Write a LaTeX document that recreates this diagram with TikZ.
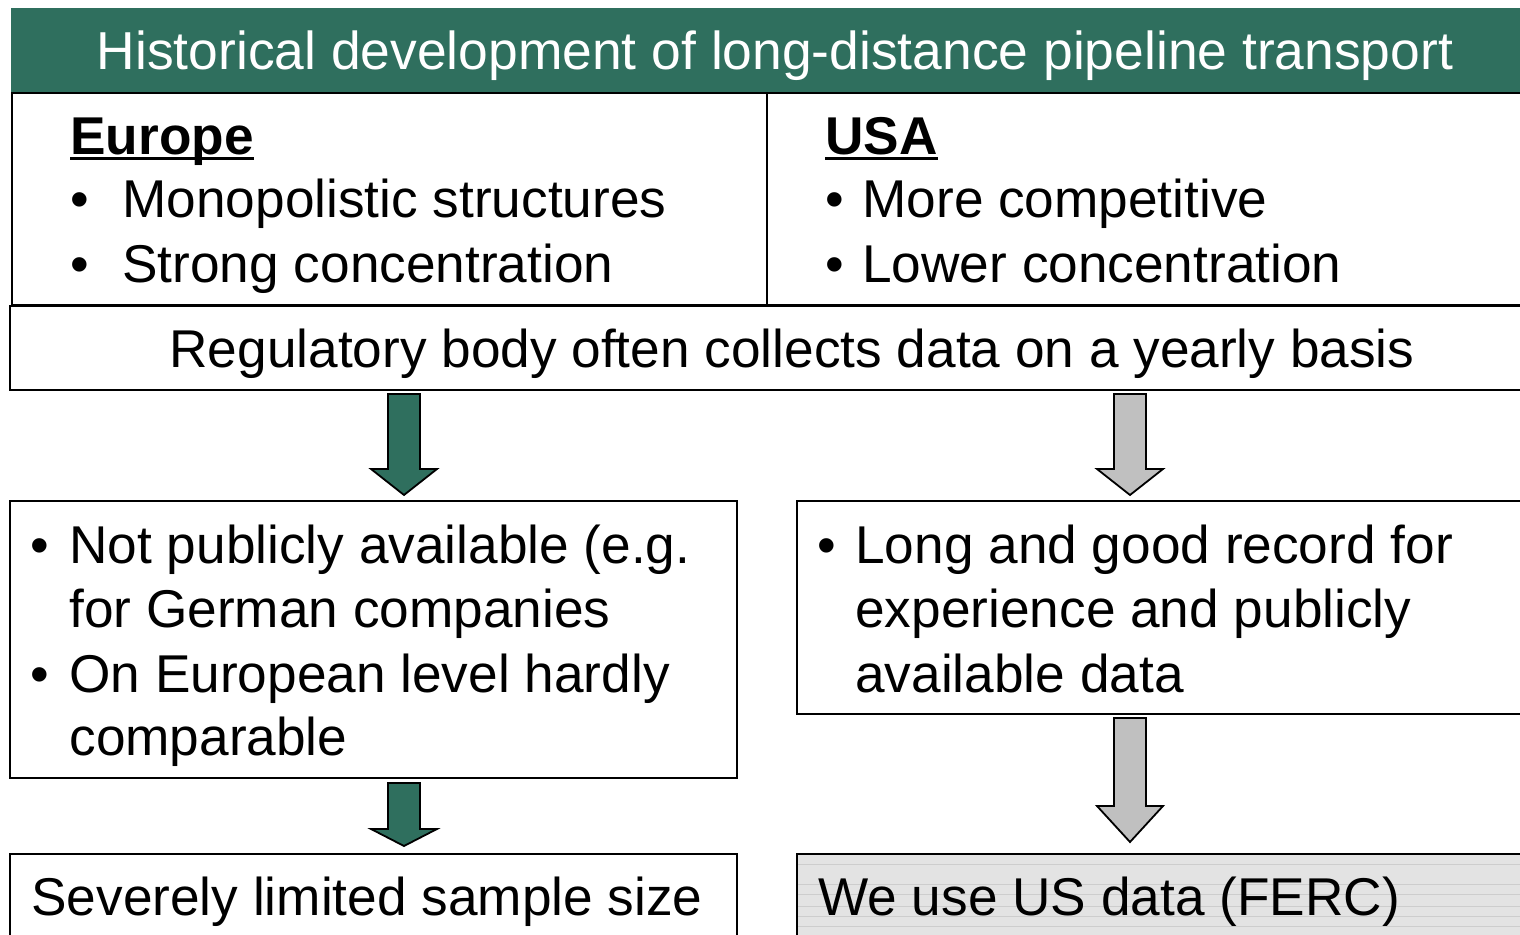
\documentclass[tikz,border=0pt]{standalone}
\usepackage{fontspec}
\setmainfont{Liberation Sans}
\usetikzlibrary{fit}
\definecolor{hgreen}{RGB}{47,111,94}
\definecolor{agray}{RGB}{192,192,192}
\definecolor{bgray}{RGB}{227,227,227}
\definecolor{lgray}{RGB}{205,205,205}
\newcommand\myul[1]{\setbox0\hbox{#1}\rlap{\rule[-2.6pt]{\wd0}{1.5pt}}\box0}
\newcommand\barrow[5]{% fill, cx, ytop, yhead, ytip
  \draw[arrowline, fill=#1] (#2-16,#3) -- (#2+16,#3) -- (#2+16,#4) -- (#2+33,#4)
    -- (#2,#5) -- (#2-33,#4) -- (#2-16,#4) -- cycle;}
\begin{document}
\begin{tikzpicture}[x=0.5pt,y=-0.5pt,
  box/.style={draw=black, line width=1.2pt, inner sep=0pt},
  arrowline/.style={draw=black, line width=0.9pt, line join=miter},
  txt/.style={anchor=base west, inner sep=0pt, font=\fontsize{26.6}{32}\selectfont},
  ttl/.style={anchor=base, inner sep=0pt, text=white, font=\fontsize{26.7}{32}\selectfont}]
\useasboundingbox (0,0) rectangle (1520,935);
% title bar
\node[fill=hgreen, inner sep=0pt, fit={(11,8)(1540,92)}] (title) {};
\node[ttl] (ttext) at (775,70) {Historical development of long-distance pipeline transport};
% top box
\node[box, fit={(12,93)(1540,305)}] (top) {};
\draw[line width=1.2pt] (767,93) -- (767,305);
\node[txt] (eu) at (70,155) {\myul{\textbf{Europe}}};
\node[txt] (eub1) at (70,218) {•};
\node[txt] (eut1) at (122,218) {Monopolistic structures};
\node[txt] (eub2) at (70,283) {•};
\node[txt] (eut2) at (122,283) {Strong concentration};
\node[txt] (us) at (825,155) {\myul{\textbf{USA}}};
\node[txt] (usb1) at (825,218) {•};
\node[txt] (ust1) at (862,218) {More competitive};
\node[txt] (usb2) at (825,283) {•};
\node[txt] (ust2) at (862,283) {Lower concentration};
% regulatory box
\node[box, fit={(10,306)(1540,390)}] (reg) {};
\node[txt, anchor=base] (regt) at (792,368) {Regulatory body often collects data on a yearly basis};
% arrows row 1
\barrow{hgreen}{404}{394}{469}{495}
\barrow{agray}{1130}{394}{469}{495}
% middle boxes
\node[box, fit={(10,501)(737,778)}] (midl) {};
\node[txt] (mlb1) at (30,563) {•};
\node[txt] (mlt1) at (69,563) {Not publicly available (e.g.};
\node[txt] (mlt2) at (69,627) {for German companies};
\node[txt] (mlb2) at (30,692) {•};
\node[txt] (mlt3) at (69,692) {On European level hardly};
\node[txt] (mlt4) at (69,755) {comparable};
\node[box, fit={(797,501)(1540,714)}] (midr) {};
\node[txt] (mrb1) at (817,563) {•};
\node[txt] (mrt1) at (855,563) {Long and good record for};
\node[txt] (mrt2) at (855,627) {experience and publicly};
\node[txt] (mrt3) at (855,692) {available data};
% arrows row 2
\barrow{hgreen}{404}{783}{829}{846}
\barrow{agray}{1130}{718}{806}{842}
% bottom boxes
\node[box, fit={(10,854)(737,960)}] (botl) {};
\node[txt] (blt) at (31,915) {Severely limited sample size};
\node[box, fill=bgray, fit={(797,854)(1540,960)}] (botr) {};
\foreach \yy in {864,884,894,906,916,926} \draw[lgray, line width=0.4pt] (798,\yy) -- (1520,\yy);
\node[txt] (brt) at (818,915) {We use US data (FERC)};
\end{tikzpicture}
\end{document}
